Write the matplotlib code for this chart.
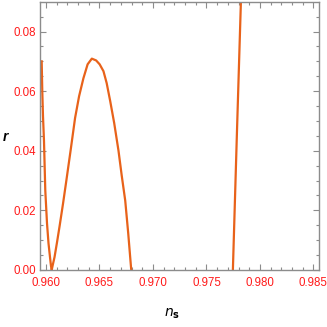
import matplotlib
matplotlib.use("Agg")
import matplotlib.pyplot as plt
from matplotlib.ticker import MultipleLocator

# values (r against n_s)
ns_a = [0.959597, 0.959653, 0.959719, 0.959813, 0.959934, 0.960094,
        0.960234, 0.960375, 0.960469, 0.960534, 0.960609, 0.960797,
        0.961031, 0.961284, 0.961594, 0.961903, 0.962297, 0.962719,
        0.963094, 0.963497, 0.963891, 0.964284, 0.964687, 0.965016,
        0.965372, 0.965672, 0.966000, 0.966375, 0.966778, 0.967078,
        0.967406, 0.967687, 0.967969]
r_a = [0.0700, 0.0600, 0.0517, 0.0433, 0.0267, 0.0157,
       0.0090, 0.0043, 0.0013, 0.0000, 0.0013, 0.0043,
       0.0093, 0.0150, 0.0223, 0.0300, 0.0400, 0.0510,
       0.0583, 0.0643, 0.0690, 0.0709, 0.0703, 0.0690,
       0.0667, 0.0627, 0.0567, 0.0493, 0.0400, 0.0317,
       0.0233, 0.0123, 0.0000]

ns_b = [0.97747, 0.97784, 0.97822]
r_b = [0.0000, 0.0450, 0.0900]

x_ticks = [0.960, 0.965, 0.970, 0.975, 0.980, 0.985]
y_ticks = [0.00, 0.02, 0.04, 0.06, 0.08]

line_col = "#e8621a"
frame_col = "#8c8c8c"
label_col = "#ff1a1a"
font = ["Liberation Sans", "DejaVu Sans"]

fig = plt.figure(figsize=(3.27, 3.27), dpi=100)
ax = fig.add_axes([40 / 327, 57 / 327, 279 / 327, 268 / 327])

ax.plot(ns_a, r_a, color=line_col, lw=1.6, solid_joinstyle="round")
ax.plot(ns_b, r_b, color=line_col, lw=1.6)

ax.set_xlim(0.95944, 0.98552)
ax.set_ylim(0.0, 0.0899)

ax.set_xticks(x_ticks)
ax.set_xticklabels([f"{v:.3f}" for v in x_ticks])
ax.set_yticks(y_ticks)
ax.set_yticklabels([f"{v:.2f}" for v in y_ticks])
ax.xaxis.set_minor_locator(MultipleLocator(0.001))
ax.yaxis.set_minor_locator(MultipleLocator(0.005))

for s in ax.spines.values():
    s.set_color(frame_col)
    s.set_linewidth(1.0)

ax.tick_params(which="both", direction="in", top=True, right=True,
               color=frame_col, width=0.8)
ax.tick_params(which="major", length=4.5, labelsize=8.3,
               labelcolor=label_col, pad=5)
ax.tick_params(which="minor", length=2.5)
ax.tick_params(axis="y", pad=3)
for lab in ax.get_xticklabels() + ax.get_yticklabels():
    lab.set_family(font)

fig.text(5 / 327, 1 - 137 / 327, "r", fontsize=10, style="italic",
         fontweight="bold", family=font, ha="center", va="center")
fig.text(172 / 327, 1 - 314 / 327, r"$\mathbf{\mathit{n}_s}$", fontsize=10,
         ha="center", va="center")

fig.savefig("out.png", dpi=100)
